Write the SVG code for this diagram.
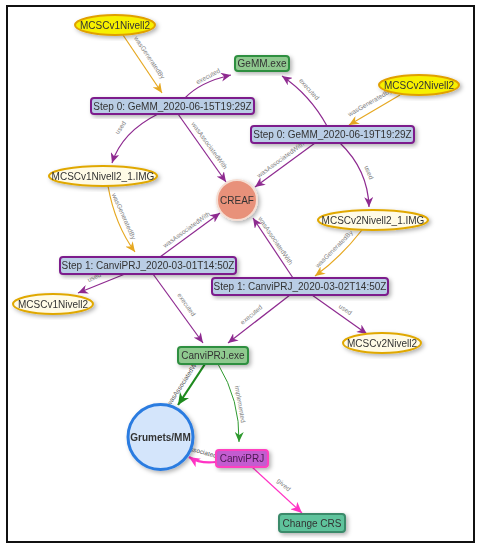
<svg xmlns="http://www.w3.org/2000/svg" width="483" height="550" viewBox="0 0 483 550">
<defs>
<style>
.n text{font-family:"Liberation Sans",Arial,sans-serif;font-size:10px;fill:#333;text-anchor:middle;dominant-baseline:central}
.lbl{font-family:"Liberation Sans",Arial,sans-serif;font-size:6.5px;fill:#808080;text-anchor:middle}
.e{fill:none}
.pu{stroke:#8e2a90;stroke-width:1.2;marker-end:url(#mpu)}
.or{stroke:#e6a821;stroke-width:1.2;marker-end:url(#mor)}
.yel{fill:#f7f000;stroke:#e0a000;stroke-width:2}
.crm{fill:#fffbe6;stroke:#e0a800;stroke-width:2}
.step{fill:#b9cde5;stroke:#7d1f8c;stroke-width:2}
.exe{fill:#8fc98f;stroke:#2f8f3f;stroke-width:2}
</style>
<filter id="sh" x="-30%" y="-30%" width="160%" height="160%">
<feDropShadow dx="2" dy="2" stdDeviation="2" flood-color="#000" flood-opacity="0.3"/>
</filter>
<marker id="mpu" markerUnits="userSpaceOnUse" markerWidth="11" markerHeight="9" refX="10" refY="4.5" orient="auto"><path d="M0,0 L10,4.5 L0,9 L3,4.5 z" fill="#8e2a90"/></marker>
<marker id="mor" markerUnits="userSpaceOnUse" markerWidth="11" markerHeight="9" refX="10" refY="4.5" orient="auto"><path d="M0,0 L10,4.5 L0,9 L3,4.5 z" fill="#e6a821"/></marker>
<marker id="mdg" markerUnits="userSpaceOnUse" markerWidth="13" markerHeight="11" refX="12" refY="5.5" orient="auto"><path d="M0,0 L12,5.5 L0,11 L3.5,5.5 z" fill="#1e8a1e"/></marker>
<marker id="mlg" markerUnits="userSpaceOnUse" markerWidth="11" markerHeight="9" refX="10" refY="4.5" orient="auto"><path d="M0,0 L10,4.5 L0,9 L3,4.5 z" fill="#2f9a2f"/></marker>
<marker id="mpk" markerUnits="userSpaceOnUse" markerWidth="12" markerHeight="10" refX="11" refY="5" orient="auto"><path d="M0,0 L11,5 L0,10 L3,5 z" fill="#ff33c4"/></marker>
</defs>
<rect x="0" y="0" width="483" height="550" fill="#fff"/>
<rect x="7" y="6" width="467" height="536" fill="#fff" stroke="#111" stroke-width="2"/>
<g id="connectors">
<path class="e or" d="M123,35 L162,93"/>
<path class="e pu" d="M185,98 Q200,82 231,75"/>
<path class="e pu" d="M327,126 Q310,95 282,76"/>
<path class="e or" d="M400,95 L349,125"/>
<path class="e pu" d="M158,114 Q122,132 112,163"/>
<path class="e pu" d="M178,114 L226,182"/>
<path class="e pu" d="M315,143 L255,187"/>
<path class="e pu" d="M340,143 Q368,170 369,207"/>
<path class="e or" d="M108,186 Q115,225 135,252"/>
<path class="e pu" d="M160,257 L220,213"/>
<path class="e pu" d="M293,278 L253,218"/>
<path class="e or" d="M362,230 Q340,258 315,276"/>
<path class="e pu" d="M125,274 L78,293"/>
<path class="e pu" d="M153,274 L203,343"/>
<path class="e pu" d="M290,295 L228,343"/>
<path class="e pu" d="M312,295 L367,334"/>
<path class="e" d="M205,364 L178,405" stroke="#1e8a1e" stroke-width="2.2" marker-end="url(#mdg)"/>
<path class="e" d="M218,364 Q240,400 239,442" stroke="#2f9a2f" stroke-width="1" marker-end="url(#mlg)"/>
<path class="e" d="M216,462 Q200,464 189,457" stroke="#ff33c4" stroke-width="2.2" marker-end="url(#mpk)"/>
<path class="e" d="M252,467 L302,513" stroke="#ff33c4" stroke-width="1.2" marker-end="url(#mpk)"/>
<text class="lbl" transform="translate(146,60) rotate(56)" dy="-2">wasGeneratedBy</text>
<text class="lbl" transform="translate(210,80) rotate(-28)" dy="-2">executed</text>
<text class="lbl" transform="translate(306,92) rotate(48)" dy="-2">executed</text>
<text class="lbl" transform="translate(372,106) rotate(-30)" dy="-2">wasGeneratedBy</text>
<text class="lbl" transform="translate(124,130) rotate(-55)" dy="-2">used</text>
<text class="lbl" transform="translate(206,148) rotate(54)" dy="-2">wasAssociatedWith</text>
<text class="lbl" transform="translate(283,163) rotate(-36)" dy="-2">wasAssociatedWith</text>
<text class="lbl" transform="translate(365,174) rotate(68)" dy="-2">used</text>
<text class="lbl" transform="translate(120,218) rotate(66)" dy="-2">wasGeneratedBy</text>
<text class="lbl" transform="translate(189,233) rotate(-36)" dy="-2">wasAssociatedWith</text>
<text class="lbl" transform="translate(272,243) rotate(56)" dy="-2">wasAssociatedWith</text>
<text class="lbl" transform="translate(337,252) rotate(-45)" dy="-2">wasGeneratedBy</text>
<text class="lbl" transform="translate(96,281) rotate(-25)" dy="-2">used</text>
<text class="lbl" transform="translate(183,307) rotate(55)" dy="-2">executed</text>
<text class="lbl" transform="translate(254,318) rotate(-40)" dy="-2">executed</text>
<text class="lbl" transform="translate(343,313) rotate(35)" dy="-2">used</text>
<text class="lbl" transform="translate(187,384) rotate(-57)" dy="-2" style="fill:#555">wasAssociatedWith</text>
<text class="lbl" transform="translate(236,405) rotate(80)" dy="-2">implemented</text>
<text class="lbl" transform="translate(201,456) rotate(15)" dy="-2" style="fill:#555">wasAssociatedWith</text>
<text class="lbl" transform="translate(281,488) rotate(42)" dy="-2">gived</text>
</g>
<g id="n-mcscv1-top" class="n" filter="url(#sh)"><ellipse class="yel" cx="115" cy="25" rx="40" ry="10"/><text x="115" y="25">MCSCv1Nivell2</text></g>
<g id="n-gemm-exe" class="n" filter="url(#sh)"><rect class="exe" x="235" y="56" width="54" height="15" rx="3"/><text x="262" y="63.5">GeMM.exe</text></g>
<g id="n-mcscv2-top" class="n" filter="url(#sh)"><ellipse class="yel" cx="419" cy="85" rx="40" ry="10"/><text x="419" y="85">MCSCv2Nivell2</text></g>
<g id="n-step0a" class="n" filter="url(#sh)"><rect class="step" x="91" y="98" width="163" height="16" rx="3"/><text x="172.5" y="106">Step 0: GeMM_2020-06-15T19:29Z</text></g>
<g id="n-step0b" class="n" filter="url(#sh)"><rect class="step" x="251" y="126" width="163" height="17" rx="3"/><text x="332.5" y="134.5">Step 0: GeMM_2020-06-19T19:29Z</text></g>
<g id="n-mcscv1-img" class="n" filter="url(#sh)"><ellipse class="crm" cx="103" cy="176" rx="54" ry="10"/><text x="103" y="176">MCSCv1Nivell2_1.IMG</text></g>
<g id="n-creaf" class="n" filter="url(#sh)"><circle cx="237" cy="200" r="20" fill="#e8917a" stroke="#f5ddd2" stroke-width="2"/><text x="237" y="200">CREAF</text></g>
<g id="n-mcscv2-img" class="n" filter="url(#sh)"><ellipse class="crm" cx="373" cy="220" rx="55" ry="10"/><text x="373" y="220">MCSCv2Nivell2_1.IMG</text></g>
<g id="n-step1a" class="n" filter="url(#sh)"><rect class="step" x="60" y="257" width="176" height="17" rx="3"/><text x="148" y="265.5">Step 1: CanviPRJ_2020-03-01T14:50Z</text></g>
<g id="n-step1b" class="n" filter="url(#sh)"><rect class="step" x="212" y="278" width="176" height="17" rx="3"/><text x="300" y="286.5">Step 1: CanviPRJ_2020-03-02T14:50Z</text></g>
<g id="n-mcscv1-left" class="n" filter="url(#sh)"><ellipse class="crm" cx="53" cy="304" rx="40" ry="10"/><text x="53" y="304">MCSCv1Nivell2</text></g>
<g id="n-mcscv2-right" class="n" filter="url(#sh)"><ellipse class="crm" cx="382" cy="343" rx="39" ry="10"/><text x="382" y="343">MCSCv2Nivell2</text></g>
<g id="n-canviprj-exe" class="n" filter="url(#sh)"><rect class="exe" x="178" y="347" width="70" height="17" rx="3"/><text x="213" y="355.5">CanviPRJ.exe</text></g>
<g id="n-grumets" class="n" filter="url(#sh)"><circle cx="160.5" cy="437" r="32.5" fill="#d4e5fb" stroke="#2b7be0" stroke-width="3"/><text x="160.5" y="437" style="font-weight:bold;font-size:10px">Grumets/MM</text></g>
<g id="n-canviprj" class="n" filter="url(#sh)"><rect x="216" y="450" width="52" height="17" rx="3" fill="#c35bd0" stroke="#ff3fc0" stroke-width="2"/><text x="242" y="458.5" style="fill:#4a1a50">CanviPRJ</text></g>
<g id="n-changecrs" class="n" filter="url(#sh)"><rect x="279" y="514" width="66" height="18" rx="3" fill="#5ec39c" stroke="#3a8a6a" stroke-width="2"/><text x="312" y="523">Change CRS</text></g>
</svg>
